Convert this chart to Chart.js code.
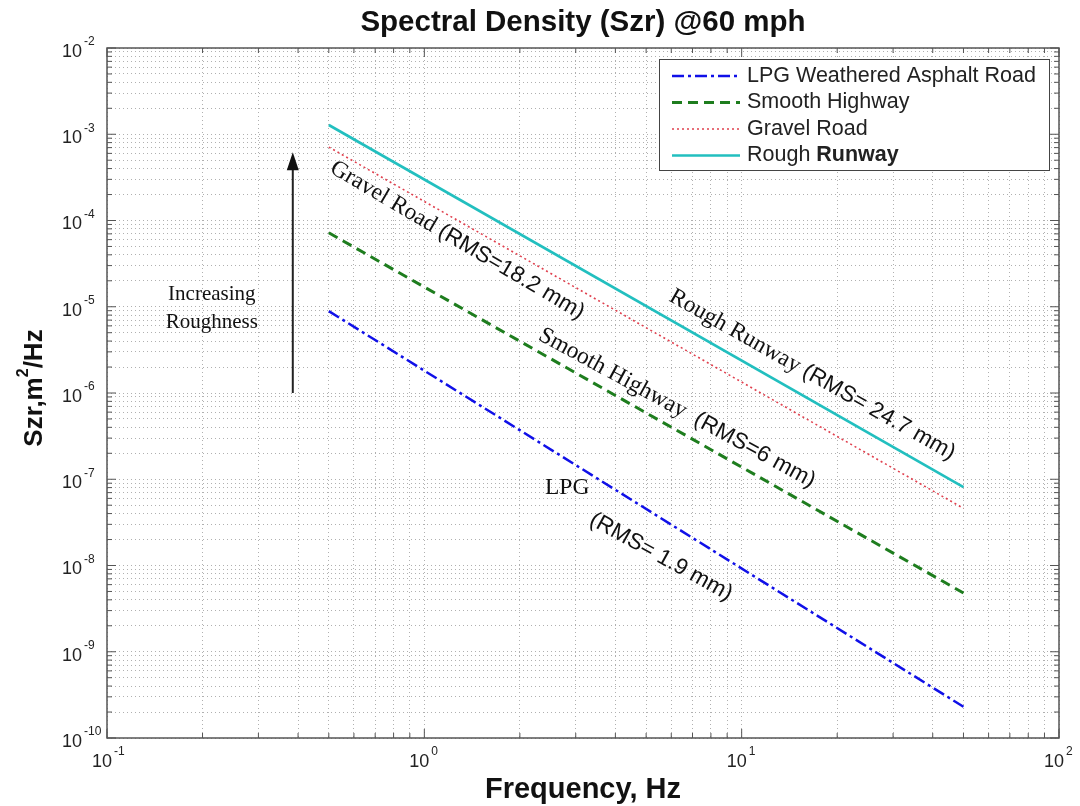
<!DOCTYPE html>
<html>
<head>
<meta charset="utf-8">
<script src="https://cdn.jsdelivr.net/npm/chart.js@4.4.1/dist/chart.umd.min.js"></script>
<style>
  body { margin: 0; background: #fff; }
  #wrap { width: 1080px; height: 806px; position: relative; }
</style>
</head>
<body>
<div id="wrap"><canvas id="psdChart"></canvas></div>
<script>
// line end points (Hz) and spectral density values (m^2/Hz)
var freqs = [0.5, 50];
var lpgVals = [8.9e-6, 2.3e-10];
var smoothVals = [7.2e-5, 4.8e-9];
var gravelVals = [7.1e-4, 4.6e-8];
var runwayVals = [1.28e-3, 8.1e-8];

var seriesNames = ['LPG Weathered Asphalt Road', 'Smooth Highway', 'Gravel Road', 'Rough Runway'];

// decade exponents used for tick labels
var xExps = [-1, 0, 1, 2];
var yExps = [-2, -3, -4, -5, -6, -7, -8, -9, -10];

function toPoints(vals) {
  var pts = [];
  for (var i = 0; i < freqs.length; i++) {
    pts.push({ x: freqs[i], y: vals[i] });
  }
  return pts;
}

// 1..9 x 10^n ticks for the MATLAB style grid
function logTicks(lo, hi) {
  var out = [];
  for (var e = lo; e < hi; e++) {
    for (var m = 1; m <= 9; m++) {
      out.push({ value: m * Math.pow(10, e), major: m === 1 });
    }
  }
  out.push({ value: Math.pow(10, hi), major: true });
  return out;
}

var serif = '"Liberation Serif", "Times New Roman", serif';
var sans = '"Liberation Sans", Arial, sans-serif';

function drawPow(ctx, x, y, exp) {
  // "10" right aligned at x, exponent raised just after it
  ctx.fillStyle = '#222';
  ctx.textBaseline = 'middle';
  ctx.font = '18px ' + sans;
  ctx.textAlign = 'right';
  ctx.fillText('10', x, y);
  ctx.font = '12px ' + sans;
  ctx.textAlign = 'left';
  ctx.fillText(String(exp), x + 2, y - 10);
}

function drawRotated(ctx, cx, cy, angle, parts) {
  ctx.save();
  ctx.translate(cx, cy);
  ctx.rotate(angle);
  var total = 0;
  parts.forEach(function (p) {
    ctx.font = p.font;
    p.w = ctx.measureText(p.text).width;
    total += p.w;
  });
  var x = -total / 2;
  ctx.textBaseline = 'middle';
  ctx.textAlign = 'left';
  ctx.fillStyle = '#111';
  parts.forEach(function (p) {
    ctx.font = p.font;
    ctx.fillText(p.text, x, p.dy || 0);
    x += p.w;
  });
  ctx.restore();
}

var deg = Math.PI / 180;
var labelSerif = '23.5px ' + serif;
var labelSans = '22.5px ' + sans;
// text on the plot, placed at data coordinates
var notes = [
  { x: 1.27, y: 5.9e-5, a: 30.5, parts: [{ text: 'Gravel Road ', font: labelSerif }, { text: '(RMS=18.2 mm)', font: labelSans }] },
  { x: 16.7, y: 1.62e-6, a: 29.5, parts: [{ text: 'Rough Runway ', font: labelSerif }, { text: '(RMS= 24.7 mm)', font: labelSans }] },
  { x: 6.25, y: 6.7e-7, a: 28.5, parts: [{ text: 'Smooth Highway  ', font: labelSerif }, { text: '(RMS=6 mm)', font: labelSans }] },
  { x: 2.82, y: 7.9e-8, a: 0, parts: [{ text: 'LPG', font: labelSerif }] },
  { x: 5.57, y: 1.26e-8, a: 29, parts: [{ text: '(RMS= 1.9 mm)', font: labelSans }] },
  { x: 0.214, y: 1.37e-5, a: 0, parts: [{ text: 'Increasing', font: '21px ' + serif }] },
  { x: 0.214, y: 6.65e-6, a: 0, parts: [{ text: 'Roughness', font: '21px ' + serif }] }
];

var decorations = {
  id: 'decorations',
  afterDraw: function (chart) {
    var ctx = chart.ctx;
    var xs = chart.scales.x, ys = chart.scales.y;
    var area = chart.chartArea;
    var midX = (area.left + area.right) / 2;
    ctx.save();

    // axes frame
    ctx.strokeStyle = '#555';
    ctx.lineWidth = 1.5;
    ctx.setLineDash([]);
    ctx.strokeRect(area.left, area.top, area.right - area.left, area.bottom - area.top);

    // inward tick marks on all four sides
    ctx.lineWidth = 1;
    ctx.beginPath();
    xs.ticks.forEach(function (t) {
      var px = xs.getPixelForValue(t.value);
      var len = t.major ? 9 : 5;
      ctx.moveTo(px, area.bottom); ctx.lineTo(px, area.bottom - len);
      ctx.moveTo(px, area.top); ctx.lineTo(px, area.top + len);
    });
    ys.ticks.forEach(function (t) {
      var py = ys.getPixelForValue(t.value);
      var len = t.major ? 9 : 5;
      ctx.moveTo(area.left, py); ctx.lineTo(area.left + len, py);
      ctx.moveTo(area.right, py); ctx.lineTo(area.right - len, py);
    });
    ctx.stroke();

    // tick labels
    yExps.forEach(function (e) {
      var py = ys.getPixelForValue(Math.pow(10, e));
      drawPow(ctx, area.left - 25, py + 4, e);
    });
    xExps.forEach(function (e) {
      var px = xs.getPixelForValue(Math.pow(10, e));
      drawPow(ctx, px + 5, area.bottom + 24, e);
    });

    // titles
    ctx.fillStyle = '#111';
    ctx.textAlign = 'center';
    ctx.textBaseline = 'middle';
    ctx.font = 'bold 29.5px ' + sans;
    ctx.fillText('Spectral Density (Szr) @60 mph', midX, 23);
    ctx.font = 'bold 29px ' + sans;
    ctx.fillText('Frequency, Hz', midX, 790);
    drawRotated(ctx, 35, 388, -Math.PI / 2, [
      { text: 'Szr,m', font: 'bold 26px ' + sans },
      { text: '2', font: 'bold 16px ' + sans, dy: -11 },
      { text: '/Hz', font: 'bold 26px ' + sans }
    ]);

    // increasing roughness arrow
    var ax = xs.getPixelForValue(0.385);
    var ay0 = ys.getPixelForValue(1e-6);
    var ay1 = ys.getPixelForValue(6.2e-4);
    ctx.strokeStyle = '#222';
    ctx.fillStyle = '#111';
    ctx.lineWidth = 2;
    ctx.beginPath();
    ctx.moveTo(ax, ay0); ctx.lineTo(ax, ay1 + 14);
    ctx.stroke();
    ctx.beginPath();
    ctx.moveTo(ax, ay1); ctx.lineTo(ax - 6, ay1 + 18); ctx.lineTo(ax + 6, ay1 + 18);
    ctx.closePath(); ctx.fill();

    // annotations
    notes.forEach(function (n) {
      drawRotated(ctx, xs.getPixelForValue(n.x), ys.getPixelForValue(n.y), n.a * deg, n.parts);
    });

    // legend box
    var lx = 659, ly = 59, lw = 390, lh = 111;
    ctx.fillStyle = '#fff';
    ctx.fillRect(lx, ly, lw, lh);
    ctx.strokeStyle = '#444';
    ctx.lineWidth = 1;
    ctx.strokeRect(lx + 0.5, ly + 0.5, lw, lh);
    chart.data.datasets.forEach(function (ds, i) {
      var ry = 76 + i * 26.5;
      ctx.beginPath();
      ctx.strokeStyle = ds.borderColor;
      ctx.lineWidth = ds.borderWidth;
      ctx.setLineDash(ds.borderDash || []);
      ctx.moveTo(672, ry); ctx.lineTo(740, ry);
      ctx.stroke();
      ctx.setLineDash([]);
      ctx.fillStyle = '#222';
      ctx.textAlign = 'left';
      ctx.textBaseline = 'middle';
      ctx.font = '21.5px ' + sans;
      if (i === 3) {
        ctx.fillText('Rough ', 747, ry);
        var w = ctx.measureText('Rough ').width;
        ctx.font = 'bold 21.5px ' + sans;
        ctx.fillText('Runway', 747 + w, ry);
      } else {
        ctx.fillText(ds.label, 747, ry);
      }
    });
    ctx.restore();
  }
};

var gridOpts = {
  display: true,
  color: '#b0b0b0',
  lineWidth: 1,
  drawTicks: false
};

var ctx = document.getElementById('psdChart');
var psdChart = new Chart(ctx, {
  type: 'line',
  data: {
    datasets: [
      { label: seriesNames[0], data: toPoints(lpgVals), borderColor: '#1010e8', borderWidth: 2.5, borderDash: [12, 4, 3, 4] },
      { label: seriesNames[1], data: toPoints(smoothVals), borderColor: '#1e7d1e', borderWidth: 3, borderDash: [10, 6] },
      { label: seriesNames[2], data: toPoints(gravelVals), borderColor: '#e0404e', borderWidth: 1.6, borderDash: [2, 3] },
      { label: seriesNames[3], data: toPoints(runwayVals), borderColor: '#22bfbf', borderWidth: 2.6 }
    ]
  },
  options: {
    responsive: true,
    maintainAspectRatio: false,
    animation: false,
    layout: { padding: { left: 107, right: 21, top: 48, bottom: 68 } },
    elements: { point: { radius: 0 }, line: { tension: 0 } },
    plugins: {
      legend: { display: false },
      title: { display: false },
      tooltip: { enabled: false }
    },
    scales: {
      x: {
        type: 'logarithmic',
        min: 0.1,
        max: 100,
        afterBuildTicks: function (s) { s.ticks = logTicks(-1, 2); },
        ticks: { display: false },
        grid: gridOpts,
        border: { display: false, dash: [1, 3] }
      },
      y: {
        type: 'logarithmic',
        min: 1e-10,
        max: 1e-2,
        afterBuildTicks: function (s) { s.ticks = logTicks(-10, -2); },
        ticks: { display: false },
        grid: gridOpts,
        border: { display: false, dash: [1, 3] }
      }
    }
  },
  plugins: [decorations]
});
</script>
</body>
</html>
